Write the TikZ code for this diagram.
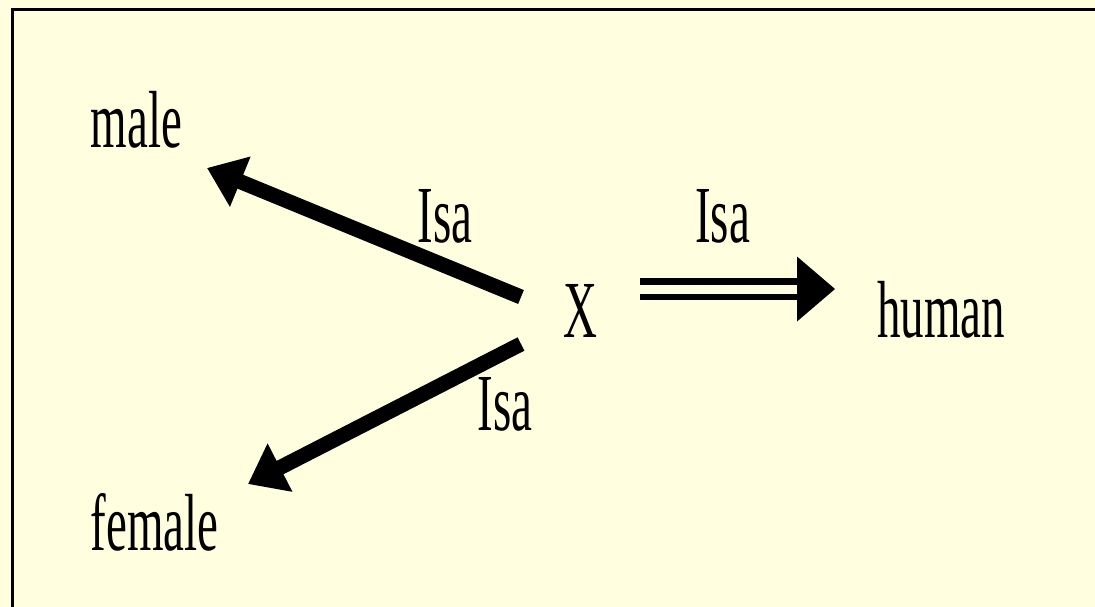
\documentclass[tikz,border=0pt]{standalone}
\usepackage{fontspec}
\setmainfont{Liberation Serif}[FakeStretch=0.58]
\usetikzlibrary{arrows.meta}
\definecolor{bg}{RGB}{255,255,224}
\begin{document}
\begin{tikzpicture}[x=1pt,y=-1pt,
  lbl/.style={inner sep=0pt, anchor=base, font=\fontsize{81}{90}\selectfont},
  isaarrow/.style={line width=15pt, -{Triangle[length=36pt,width=52pt]}},
  dblline/.style={double=bg, double distance=9pt, line width=6.5pt},
  ]
\useasboundingbox (0,0) rectangle (1095,607);
\clip (0,0) rectangle (1095,607);
\fill[bg] (0,0) rectangle (1095,607);
\draw[line width=3pt] (12.3,9.5) rectangle (1130,650);

\node[lbl] (male) at (136.5,148) {male};
\node[lbl] (female) at (154.5,550) {female};
\node[lbl] (X) at (580,337) {X};
\node[lbl] (human) at (941,337) {human};
\node[lbl] (isa1) at (445,242) {Isa};
\node[lbl] (isa2) at (722.5,242) {Isa};
\node[lbl] (isa3) at (505,430) {Isa};

\coordinate (m0) at (521,297);
\coordinate (m1) at (207,168);
\draw[isaarrow] (m0) -- (m1);

\coordinate (f0) at (521,344);
\coordinate (f1) at (248,484);
\draw[isaarrow] (f0) -- (f1);

\coordinate (h0) at (640,289);
\coordinate (h1) at (800,289);
\coordinate (h2) at (835,289);
\draw[dblline] (h0) -- (h1);
\fill (797,256.5) -- (h2) -- (797,321.5) -- cycle;
\end{tikzpicture}
\end{document}
